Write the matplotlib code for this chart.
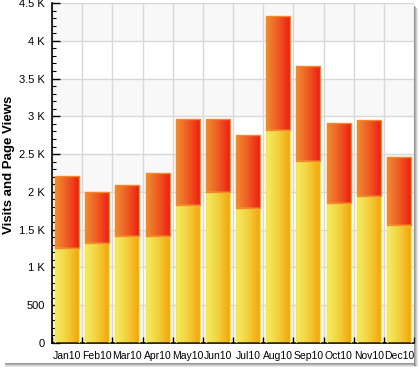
import numpy as np
import matplotlib.pyplot as plt
from matplotlib.colors import LinearSegmentedColormap
from matplotlib.patches import Rectangle
from matplotlib.ticker import MultipleLocator, FixedLocator

plt.rcParams['font.family'] = ['Liberation Sans', 'DejaVu Sans']

months = ['Jan10', 'Feb10', 'Mar10', 'Apr10', 'May10', 'Jun10',
          'Jul10', 'Aug10', 'Sep10', 'Oct10', 'Nov10', 'Dec10']
visits = [1255, 1320, 1415, 1415, 1820, 1995, 1785, 2820, 2405, 1850, 1945, 1560]
totals = [2210, 2000, 2090, 2250, 2960, 2960, 2750, 4330, 3670, 2910, 2950, 2460]
page_views = [t - v for t, v in zip(totals, visits)]
yticks = [0, 500, 1000, 1500, 2000, 2500, 3000, 3500, 4000, 4500]
ylabels = ['0', '500', '1 K', '1.5 K', '2 K', '2.5 K', '3 K', '3.5 K', '4 K', '4.5 K']

W, H = 419, 369
fig = plt.figure(figsize=(W / 100, H / 100), dpi=100)
ax = fig.add_axes([52 / W, (H - 343) / H, (414 - 52) / W, 340 / H])

x = np.arange(len(months))

# alternating bands
for lo in range(0, 4500, 1000):
    ax.axhspan(lo, lo + 500, color='#f8f8f8', zorder=0, lw=0)

yellow = LinearSegmentedColormap.from_list('y', ['#f2ee64', '#f3cf3c', '#f4a208'])
red = LinearSegmentedColormap.from_list('r', ['#ef8c30', '#ee5a22', '#ee1a12'])
grad = np.linspace(0, 1, 64).reshape(1, -1)

b1 = ax.bar(x, visits, width=0.8, facecolor='none', edgecolor='#f8e44a', lw=1, zorder=3)
b2 = ax.bar(x, page_views, width=0.8, bottom=visits, facecolor='none',
            edgecolor='#f08a2a', lw=1, zorder=3)

for bars, cmap in ((b1, yellow), (b2, red)):
    for p in bars:
        x0, y0 = p.get_x(), p.get_y()
        im = ax.imshow(grad, cmap=cmap, aspect='auto', zorder=2,
                       extent=[x0, x0 + p.get_width(), y0, y0 + p.get_height()])
        im.set_clip_path(p)

ax.set_xlim(-0.5, len(months) - 0.5)
ax.set_ylim(0, 4500)

ax.set_yticks(yticks)
ax.set_yticklabels(ylabels)
ax.yaxis.set_minor_locator(MultipleLocator(100))
ax.xaxis.set_major_locator(FixedLocator(np.arange(len(months) + 1) - 0.5))
ax.xaxis.set_minor_locator(FixedLocator(x))
ax.set_xticklabels([], minor=False)
ax.set_xticklabels(months, minor=True)

ax.tick_params(axis='y', which='major', direction='in', length=6, width=1,
               labelsize=8, pad=5, colors='black')
ax.tick_params(axis='y', which='minor', direction='in', length=3, width=0.8)
ax.tick_params(axis='x', which='major', direction='in', length=4, width=1)
ax.tick_params(axis='x', which='minor', length=0, labelsize=7.5, pad=6)

ax.grid(True, axis='y', which='major', color='#d8d8d8', lw=1, zorder=1)
ax.grid(True, axis='x', which='major', color='#d8d8d8', lw=1, zorder=1)
ax.set_axisbelow(True)

ax.spines['top'].set_visible(False)
ax.spines['right'].set_visible(False)
ax.spines['left'].set_linewidth(1.2)
ax.spines['bottom'].set_linewidth(1.2)

ax.set_ylabel('Visits and Page Views', fontsize=9.5, fontweight='bold')
ax.yaxis.set_label_coords(-0.103, 0.524)

# frame shadow
for i, a in enumerate([0.55, 0.4, 0.25, 0.12]):
    fig.patches.append(Rectangle(((414 + i) / W, 3 / H), 1 / W, (360 - i) / H,
                                 transform=fig.transFigure, color='#404040', alpha=a, lw=0))
    fig.patches.append(Rectangle((5 / W, (H - 364 - i) / H), (414 - 5 + i) / W, 1 / H,
                                 transform=fig.transFigure, color='#404040', alpha=a, lw=0))

plt.savefig('out.png', dpi=100)
